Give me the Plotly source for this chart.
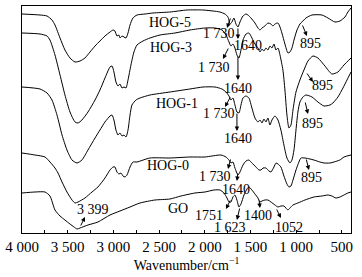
import plotly.graph_objects as go

# ---- data (wavenumber, transmittance a.u.) ----
hog5_w = [4000, 3803, 3726, 3672, 3639, 3584, 3530, 3475, 3420, 3365, 3311, 3256, 3201, 3147, 3092, 3037, 3004, 2983, 2961, 2939, 2928, 2906, 2884, 2862, 2840, 2818, 2786, 2742, 2654, 2567, 2381, 2195, 2020, 1910, 1834, 1779, 1746, 1724, 1703, 1681, 1659, 1637, 1615, 1582, 1549, 1528, 1495, 1451, 1418, 1396, 1374, 1342, 1309, 1276, 1254, 1232, 1199, 1177, 1156, 1123, 1090, 1068, 1046, 1024, 991, 959, 937, 893, 827, 718, 652, 576, 521, 466, 434, 400]
hog5_t = [219, 218, 217, 213, 208, 195, 183, 175, 171, 172, 175, 181, 187, 192, 197, 201, 203, 202, 197, 198, 195, 197, 196, 195, 200, 208, 215, 218, 219, 220, 221, 223, 223, 222, 221, 219, 216, 209, 211, 215, 209, 206, 211, 217, 219, 218, 215, 210, 205, 203, 205, 207, 210, 209, 207, 209, 210, 206, 200, 189, 180, 181, 185, 193, 203, 209, 211, 215, 218, 218, 215, 211, 212, 216, 221, 225]

hog3_w = [4000, 3803, 3726, 3694, 3639, 3584, 3530, 3475, 3420, 3387, 3344, 3278, 3201, 3147, 3092, 3037, 3015, 2994, 2972, 2950, 2928, 2906, 2884, 2862, 2840, 2808, 2775, 2742, 2676, 2600, 2490, 2326, 2162, 1998, 1889, 1812, 1768, 1735, 1714, 1692, 1670, 1648, 1626, 1604, 1582, 1549, 1517, 1484, 1451, 1418, 1396, 1374, 1353, 1331, 1309, 1287, 1265, 1243, 1221, 1199, 1177, 1145, 1123, 1101, 1079, 1057, 1035, 1002, 959, 915, 871, 816, 762, 685, 609, 543, 477, 400]
hog3_t = [200, 199, 197, 193, 178, 158, 138, 121, 111, 110, 113, 121, 133, 143, 155, 166, 167, 161, 151, 147, 149, 145, 146, 145, 153, 168, 181, 188, 192, 195, 198, 200, 203, 205, 205, 203, 198, 191, 187, 189, 185, 178, 175, 183, 193, 199, 200, 195, 189, 185, 181, 184, 182, 185, 183, 187, 185, 189, 183, 185, 178, 163, 143, 118, 105, 108, 123, 141, 153, 163, 172, 177, 175, 167, 159, 161, 168, 175]

hog1_w = [4000, 3803, 3726, 3672, 3617, 3562, 3508, 3453, 3398, 3344, 3278, 3201, 3147, 3092, 3037, 3015, 2994, 2972, 2950, 2928, 2906, 2884, 2862, 2840, 2818, 2797, 2753, 2709, 2600, 2381, 2162, 2020, 1889, 1812, 1768, 1735, 1714, 1692, 1670, 1648, 1626, 1604, 1582, 1549, 1517, 1484, 1451, 1418, 1396, 1374, 1353, 1331, 1309, 1287, 1265, 1232, 1199, 1167, 1134, 1101, 1068, 1046, 1024, 1002, 981, 959, 926, 893, 827, 762, 696, 630, 598, 543, 488, 444, 400]
hog1_t = [146, 144, 140, 133, 118, 98, 83, 73, 70, 73, 83, 95, 103, 111, 117, 118, 113, 103, 98, 100, 97, 98, 96, 103, 118, 128, 133, 135, 138, 141, 144, 146, 146, 144, 141, 137, 133, 135, 128, 121, 120, 128, 135, 137, 135, 125, 115, 111, 113, 110, 114, 111, 115, 108, 113, 117, 113, 103, 88, 75, 70, 73, 83, 103, 121, 131, 136, 138, 136, 131, 127, 128, 130, 136, 145, 153, 161]

hog0_w = [4000, 3858, 3748, 3694, 3639, 3606, 3562, 3508, 3453, 3420, 3387, 3311, 3234, 3169, 3092, 3037, 3004, 2983, 2961, 2939, 2917, 2895, 2873, 2851, 2818, 2786, 2742, 2600, 2381, 2162, 1998, 1823, 1768, 1735, 1714, 1692, 1670, 1637, 1615, 1582, 1549, 1517, 1484, 1440, 1407, 1385, 1363, 1331, 1298, 1276, 1243, 1221, 1199, 1167, 1134, 1101, 1079, 1057, 1035, 1002, 970, 948, 904, 849, 806, 740, 696, 630, 587, 521, 477, 400]
hog0_t = [80, 78, 76, 71, 65, 60, 51, 41, 33, 30, 31, 35, 41, 46, 55, 63, 66, 66, 61, 59, 60, 57, 56, 58, 66, 71, 71, 75, 75, 76, 76, 78, 76, 73, 70, 71, 65, 58, 61, 68, 72, 73, 70, 66, 63, 63, 65, 65, 62, 61, 66, 70, 69, 66, 57, 49, 46, 47, 53, 63, 71, 75, 75, 74, 73, 71, 70, 70, 71, 73, 76, 78]

go_w = [4000, 3858, 3748, 3694, 3639, 3584, 3530, 3475, 3431, 3398, 3365, 3278, 3169, 3037, 2928, 2818, 2709, 2545, 2381, 2261, 2107, 1998, 1900, 1834, 1790, 1757, 1735, 1714, 1692, 1670, 1648, 1626, 1604, 1571, 1538, 1517, 1484, 1451, 1418, 1396, 1374, 1342, 1309, 1276, 1232, 1199, 1167, 1134, 1112, 1090, 1068, 1035, 981, 904, 806, 718, 652, 609, 565, 521, 477, 434, 400]
go_t = [40, 41, 41, 37, 23, 17, 13, 9, 6, 4, 5, 8, 11, 18, 22, 26, 30, 33, 34, 37, 40, 41, 43, 43, 40, 35, 31, 31, 36, 38, 33, 26, 29, 38, 44, 46, 43, 39, 35, 31, 32, 33, 33, 31, 28, 26, 27, 27, 25, 23, 25, 28, 30, 33, 36, 37, 38, 37, 35, 36, 38, 40, 41]

x_tickvals = [4000, 3750, 3500, 3250, 3000, 2750, 2500, 2250, 2000, 1750, 1500, 1250, 1000, 750, 500]
x_ticktext = ["4 000", "", "3 500", "", "3 000", "", "2 500", "", "2 000", "", "1 500", "", "1 000", "", "500"]

# text labels: (text, wavenumber, value)
labels = [
    ("HOG-5", 2381, 211), ("HOG-3", 2370, 186), ("HOG-1", 2304, 130),
    ("HOG-0", 2403, 68), ("GO", 2293, 25),
    ("1 730", 1845, 200), ("1640", 1528, 188), ("895", 838, 190),
    ("1 730", 1900, 166), ("1640", 1637, 145), ("895", 707, 148),
    ("1 730", 1845, 120), ("1640", 1637, 95), ("895", 816, 110),
    ("1 730", 1890, 57), ("1640", 1660, 44), ("895", 827, 56),
    ("1751", 1954, 18), ("1 623", 1724, 6), ("1400", 1418, 18),
    ("1052", 1079, 6), ("3 399", 3223, 24),
]
# arrows: (tail_w, tail_t, head_w, head_t)
arrows = [
    (1714, 216, 1757, 205), (1637, 206, 1637, 194), (937, 209, 882, 197),
    (1735, 186, 1801, 174), (1637, 178, 1637, 153), (893, 161, 816, 151),
    (1714, 137, 1779, 126), (1648, 121, 1648, 102), (904, 132, 871, 119),
    (1714, 75, 1746, 64), (1637, 61, 1648, 52), (893, 75, 860, 63),
    (1714, 34, 1768, 24), (1615, 26, 1648, 13), (1407, 34, 1396, 25),
    (1221, 25, 1167, 15), (3365, 6, 3311, 16),
]

FONT = "Liberation Serif"
fig = go.Figure()
for w, t in [(hog5_w, hog5_t), (hog3_w, hog3_t), (hog1_w, hog1_t), (hog0_w, hog0_t), (go_w, go_t)]:
    fig.add_trace(go.Scatter(x=w, y=t, mode="lines", line=dict(color="black", width=1, shape="spline", smoothing=0.6),
                             showlegend=False, hoverinfo="skip"))

ann = []
for txt, w, t in labels:
    ann.append(dict(x=w, y=t, text=txt, showarrow=False, xref="x", yref="y",
                    font=dict(family=FONT, size=14, color="black")))
for tw, tt, hw, ht in arrows:
    ann.append(dict(x=hw, y=ht, ax=tw, ay=tt, axref="x", ayref="y", xref="x", yref="y",
                    text="", showarrow=True, arrowhead=2, arrowsize=0.9, arrowwidth=1, arrowcolor="black"))

fig.update_layout(
    width=362, height=277,
    margin=dict(l=22, r=11, t=6, b=44),
    paper_bgcolor="white", plot_bgcolor="white",
    annotations=ann,
    font=dict(family=FONT, color="black"),
)
fig.update_xaxes(range=[4000, 400], tickmode="array", tickvals=x_tickvals, ticktext=x_ticktext,
                 ticks="inside", ticklen=3, tickcolor="black", showline=True, linecolor="black", linewidth=1.2,
                 mirror=True, showgrid=False, zeroline=False,
                 tickfont=dict(family=FONT, size=15, color="black"),
                 title=dict(text="Wavenumber/cm<sup>−1</sup>", font=dict(family=FONT, size=14, color="black"), standoff=4))
fig.update_yaxes(range=[0, 227], showticklabels=False, ticks="", showline=True, linecolor="black", linewidth=1.2,
                 mirror=True, showgrid=False, zeroline=False)

fig.write_html("out.html", config={"displayModeBar": False, "staticPlot": True},
               post_script="document.body.style.margin='0';document.body.style.overflow='hidden';")
